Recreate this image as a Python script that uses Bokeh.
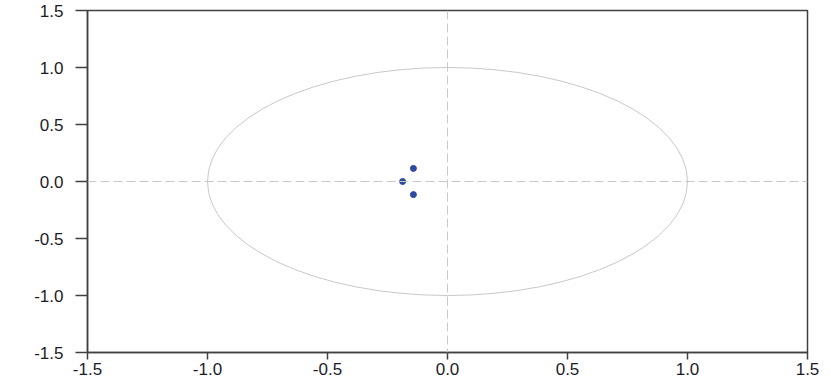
from bokeh.plotting import figure
from bokeh.models import Range1d, FixedTicker, Span
from bokeh.embed import file_html
from bokeh.resources import INLINE

# Inverse roots (real, imaginary parts)
root_real = [-0.142, -0.187, -0.142]
root_imag = [0.115, 0.0, -0.115]

# Unit circle reference
circle_x = [0.0]
circle_y = [0.0]
circle_diam = [2.0]

tick_values = [-1.5, -1.0, -0.5, 0.0, 0.5, 1.0, 1.5]
tick_labels = ["-1.5", "-1.0", "-0.5", "0.0", "0.5", "1.0", "1.5"]

p = figure(width=823, height=380, output_backend="svg", toolbar_location=None,
           x_range=Range1d(-1.5, 1.5), y_range=Range1d(-1.5, 1.5),
           min_border_left=87, min_border_right=16, min_border_top=10, min_border_bottom=28)

p.xgrid.visible = False
p.ygrid.visible = False
p.background_fill_color = "white"
p.border_fill_color = "white"
p.outline_line_color = "#404040"
p.outline_line_width = 1.5

gray = "#c8c8c8"
p.add_layout(Span(location=0, dimension="height", line_color=gray, line_dash="9 4", line_width=1))
p.add_layout(Span(location=0, dimension="width", line_color=gray, line_dash="9 4", line_width=1))

p.ellipse(x=circle_x, y=circle_y, width=circle_diam, height=circle_diam,
          fill_color=None, line_color=gray, line_width=1)

p.scatter(root_real, root_imag, size=6, marker="circle", fill_color="#2d4a9e", line_color="#2d4a9e")

labels = {v: l for v, l in zip(tick_values, tick_labels)}
for ax in (p.xaxis[0], p.yaxis[0]):
    ax.ticker = FixedTicker(ticks=tick_values)
    ax.major_label_overrides = labels
    ax.minor_tick_line_color = None
    ax.axis_line_color = "#404040"
    ax.axis_line_width = 1.5
    ax.major_tick_line_color = "#404040"
    ax.major_tick_line_width = 1.5
    ax.major_tick_in = 0
    ax.major_label_text_font = "Liberation Sans"
    ax.major_label_text_font_size = "17px"
    ax.major_label_text_color = "#1c1c28"

p.xaxis[0].major_tick_out = 7
p.xaxis[0].major_label_standoff = 3
p.yaxis[0].major_tick_out = 12
p.yaxis[0].major_label_standoff = 12

open("out.html", "w").write(file_html(p, INLINE))
